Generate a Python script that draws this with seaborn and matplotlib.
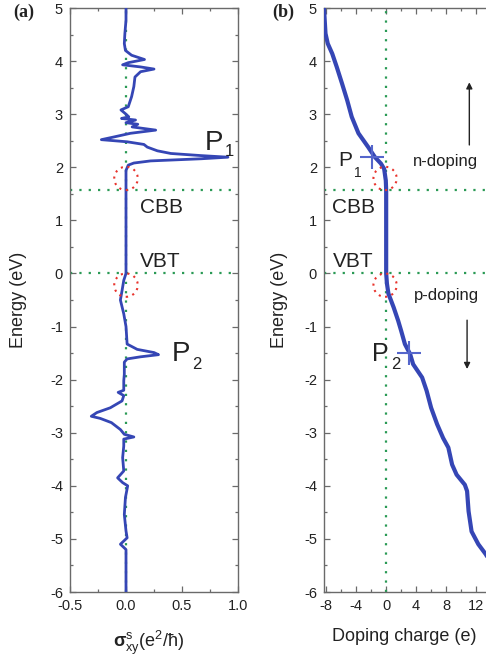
import numpy as np
import pandas as pd
import matplotlib
matplotlib.use("Agg")
import matplotlib.pyplot as plt
from matplotlib.patches import Ellipse
from matplotlib.ticker import MultipleLocator
import seaborn as sns

# ---------------- data ----------------
energy_a = [5.0, 4.77, 4.52, 4.33, 4.2, 4.11, 4.03, 3.97, 3.93, 3.89, 3.85, 3.8, 3.7,
            3.52, 3.33, 3.14, 3.08, 3.0, 2.95, 2.92, 2.89, 2.84, 2.81, 2.76, 2.7, 2.64,
            2.57, 2.52, 2.48, 2.43, 2.38, 2.31, 2.26, 2.22, 2.19, 2.16, 2.12, 2.08, 2.04,
            1.94, 1.57, 0.0, -0.13, -0.32, -0.5, -0.76, -1.0, -1.33, -1.43, -1.49, -1.53,
            -1.57, -1.61, -1.67, -1.9, -2.02, -2.2, -2.24, -2.3, -2.4, -2.53, -2.62, -2.69,
            -2.73, -2.81, -2.94, -3.03, -3.08, -3.12, -3.25, -3.47, -3.72, -3.85, -3.94,
            -4.0, -4.22, -4.54, -4.85, -4.98, -5.1, -5.2, -5.48, -6.0]
sigma_a = [0.0, 0.0, -0.01, -0.015, -0.005, 0.05, 0.165, 0.02, -0.03, 0.13, 0.25, 0.13, 0.08,
           0.07, 0.05, 0.02, -0.045, 0.0, 0.025, -0.04, 0.085, 0.0, 0.105, 0.055, 0.265, 0.04,
           -0.11, -0.22, 0.01, 0.16, 0.19, 0.28, 0.4, 0.67, 0.91, 0.67, 0.22, 0.07, 0.02,
           0.0, 0.0, 0.0, -0.02, -0.035, -0.05, -0.02, 0.0, 0.01, 0.1, 0.25, 0.29,
           0.13, 0.01, -0.015, -0.015, -0.02, -0.02, -0.07, -0.02, -0.035, -0.14, -0.26, -0.31,
           -0.23, -0.13, -0.05, -0.015, 0.07, -0.02, -0.02, -0.03, -0.02, -0.075, -0.03,
           0.015, -0.005, -0.015, 0.0, 0.01, -0.05, 0.0, 0.0, 0.0]

energy_b = [5.0, 4.52, 4.33, 4.14, 3.89, 3.58, 3.26, 2.95, 2.64, 2.38, 2.19, 2.07, 1.97,
            1.75, 1.57, 0.0, -0.19, -0.38, -0.64, -0.89, -1.08, -1.33, -1.52, -1.71, -1.96,
            -2.21, -2.53, -2.84, -3.1, -3.28, -3.6, -3.79, -3.98, -4.1, -4.48, -4.86, -5.1,
            -5.29, -5.6, -6.0]
charge_b = [-8.3, -8.1, -7.8, -7.2, -6.6, -5.9, -5.2, -4.6, -3.7, -2.4, -1.5, -0.7, -0.27,
            -0.05, 0.0, 0.0, 0.1, 0.3, 1.0, 1.6, 2.0, 2.5, 3.2, 3.6, 4.8,
            5.4, 6.0, 6.8, 7.6, 8.3, 8.8, 9.4, 10.5, 10.8, 11.0, 11.4, 12.3,
            13.3, 14.6, 16.0]

yticks = [-6, -5, -4, -3, -2, -1, 0, 1, 2, 3, 4, 5]
xticks_a = [-0.5, 0.0, 0.5, 1.0]
xticklabels_a = ["-0.5", "0.0", "0.5", "1.0"]
xticks_b = [-8, -4, 0, 4, 8, 12]

peak_names = ["P", "P"]
peak_subs = ["1", "2"]
peak_energy_b = [2.2, -1.5]
peak_charge_b = [-1.9, 3.1]

cbb_energy = 1.57
vbt_energy = 0.0

df_a = pd.DataFrame({"E": energy_a, "s": sigma_a})
df_b = pd.DataFrame({"E": energy_b, "q": charge_b})

# ---------------- style ----------------
sns.set_theme(style="ticks")
plt.rcParams["font.family"] = ["Liberation Sans", "DejaVu Sans"]
plt.rcParams["mathtext.fontset"] = "custom"
plt.rcParams["mathtext.rm"] = "Liberation Sans"
plt.rcParams["mathtext.it"] = "Liberation Sans:italic"
plt.rcParams["mathtext.bf"] = "Liberation Sans:bold"
plt.rcParams["mathtext.default"] = "regular"
plt.rcParams["axes.unicode_minus"] = False

BLUE = "#3546b5"
GREEN = "#2a9a55"
RED = "#e8332c"
SPINE = "#6a6a6a"
TXT = "#222222"

W, H = 486, 659
fig = plt.figure(figsize=(W / 100, H / 100), dpi=100)

def px_axes(left, top, width, height):
    return fig.add_axes([left / W, 1 - (top + height) / H, width / W, height / H])

ax_a = px_axes(70, 8, 168, 584)
ax_b = px_axes(324, 8, 212, 584)

for ax in (ax_a, ax_b):
    ax.set_ylim(-6, 5)
    ax.set_yticks(yticks)
    ax.set_yticklabels([str(v) for v in yticks])
    ax.yaxis.set_minor_locator(MultipleLocator(0.5))
    ax.tick_params(which="both", direction="in", top=True, right=True,
                   colors=SPINE, labelcolor=TXT, labelsize=10.5, width=0.9)
    ax.tick_params(which="major", length=4.5, pad=5)
    ax.tick_params(which="minor", length=2.5)
    for s in ax.spines.values():
        s.set_color(SPINE)
        s.set_linewidth(1.0)
    ax.axhline(cbb_energy, color=GREEN, lw=1.6, ls=(0, (1, 3.2)), zorder=1)
    ax.axhline(vbt_energy, color=GREEN, lw=1.6, ls=(0, (1, 3.2)), zorder=1)
    ax.axvline(0, color=GREEN, lw=1.6, ls=(0, (1, 3.2)), zorder=1)
    ax.set_ylabel("Energy (eV)", fontsize=13, color=TXT)

ax_a.set_xlim(-0.5, 1.0)
ax_a.set_xticks(xticks_a)
ax_a.set_xticklabels(xticklabels_a)
ax_a.xaxis.set_minor_locator(MultipleLocator(0.25))

ax_b.set_xlim(-8.3, 20)
ax_b.set_xticks(xticks_b + [16, 20])
ax_b.set_xticklabels([str(v) for v in xticks_b] + ["", ""])
ax_b.xaxis.set_minor_locator(MultipleLocator(2))

# curves
sns.lineplot(data=df_a, x="s", y="E", sort=False, estimator=None, orient="y",
             color=BLUE, lw=2.0, ax=ax_a, zorder=3)
sns.lineplot(data=df_b, x="q", y="E", sort=False, estimator=None, orient="y",
             color=BLUE, lw=3.0, ax=ax_b, zorder=3)
ax_b.plot(peak_charge_b, peak_energy_b, ls="none", marker="+", ms=17, mew=1.5,
          color="#5566cc", zorder=4)

# red dotted ellipses
for cy in (1.79, -0.22):
    ax_a.add_patch(Ellipse((0.0, cy), 0.21, 0.44, fill=False, ec=RED, lw=1.5,
                           ls=(0, (1, 2.2)), zorder=5))
    ax_b.add_patch(Ellipse((-0.15, cy), 3.1, 0.44, fill=False, ec=RED, lw=1.5,
                           ls=(0, (1, 2.2)), zorder=5))

def peak_label(ax, x, y, name, sub, size, subsize, dy):
    t = ax.text(x, y, name, fontsize=size, color=TXT, va="baseline")
    ax.annotate(sub, xy=(1, 0), xycoords=t, xytext=(1.5, dy),
                textcoords="offset points", fontsize=subsize, color=TXT,
                va="top", ha="left")

# labels panel (a)
ax_a.set_xlabel(r"$\mathbf{\sigma}^{s}_{xy}$(e$^{2}$/$\hbar$)", fontsize=13, color=TXT)
ax_a.xaxis.set_label_coords(0.47, -0.062)
ax_a.yaxis.set_label_coords(-0.255, 0.5)
peak_label(ax_a, 0.70, 2.32, peak_names[0], peak_subs[0], 20, 12, 8.5)
peak_label(ax_a, 0.41, -1.65, peak_names[1], peak_subs[1], 20, 12, 7)
ax_a.text(0.125, 1.13, "CBB", fontsize=15, color=TXT, va="baseline")
ax_a.text(0.125, 0.12, "VBT", fontsize=15, color=TXT, va="baseline")

# labels panel (b)
ax_b.set_xlabel("Doping charge (e)", fontsize=13, color=TXT)
ax_b.xaxis.set_label_coords(0.377, -0.062)
ax_b.yaxis.set_label_coords(-0.17, 0.5)
peak_label(ax_b, -6.4, 2.02, peak_names[0], peak_subs[0], 15, 10, 3)
peak_label(ax_b, -1.9, -1.65, peak_names[1], peak_subs[1], 18, 12, 6.5)
ax_b.text(-7.25, 1.13, "CBB", fontsize=15, color=TXT, va="baseline")
ax_b.text(-7.05, 0.12, "VBT", fontsize=15, color=TXT, va="baseline")
ax_b.text(7.9, 2.1, "n-doping", fontsize=12, color=TXT, ha="center", va="center")
ax_b.text(8.0, -0.42, "p-doping", fontsize=12, color=TXT, ha="center", va="center")
ax_b.annotate("", xy=(11.1, 3.6), xytext=(11.1, 2.42),
              arrowprops=dict(arrowstyle="-|>", color="#222222", lw=1.0,
                              mutation_scale=9, shrinkA=0, shrinkB=0))
ax_b.annotate("", xy=(10.8, -1.8), xytext=(10.8, -0.88),
              arrowprops=dict(arrowstyle="-|>", color="#222222", lw=1.0,
                              mutation_scale=9, shrinkA=0, shrinkB=0))

fig.text(13 / W, 1 - 4 / H, "(a)", fontsize=13, fontweight="bold",
         family=["Liberation Serif", "DejaVu Serif"], va="top", ha="left", color=TXT)
fig.text(272 / W, 1 - 4 / H, "(b)", fontsize=13, fontweight="bold",
         family=["Liberation Serif", "DejaVu Serif"], va="top", ha="left", color=TXT)

fig.savefig("out.png", dpi=100)
